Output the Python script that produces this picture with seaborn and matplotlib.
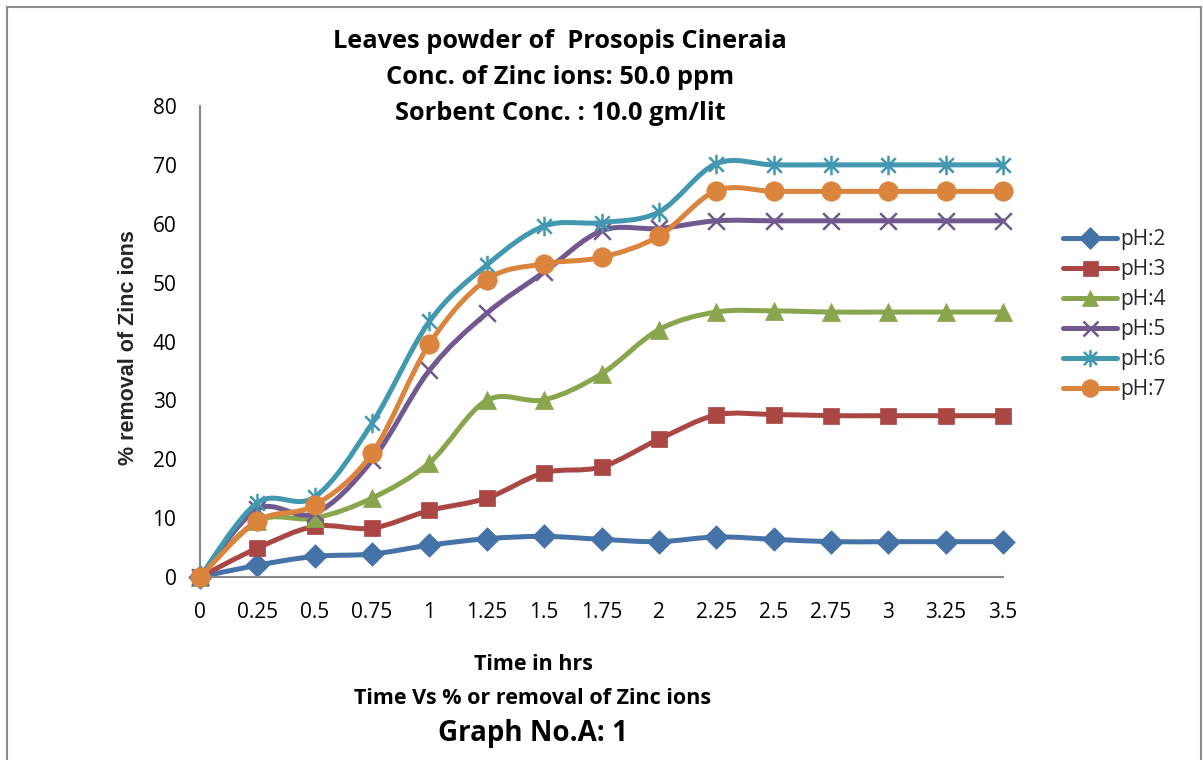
import numpy as np
import pandas as pd
import matplotlib
matplotlib.use("Agg")
import matplotlib.pyplot as plt
import seaborn as sns
from matplotlib.path import Path
from matplotlib.patches import PathPatch, Rectangle
from matplotlib.lines import Line2D

# ---------------- data ----------------
time_hrs = [0, 0.25, 0.5, 0.75, 1, 1.25, 1.5, 1.75, 2, 2.25, 2.5, 2.75, 3, 3.25, 3.5]
tick_labels = ["0", "0.25", "0.5", "0.75", "1", "1.25", "1.5", "1.75", "2",
               "2.25", "2.5", "2.75", "3", "3.25", "3.5"]
series_names = ["pH:2", "pH:3", "pH:4", "pH:5", "pH:6", "pH:7"]
ph2 = [0, 2.0, 3.5, 3.9, 5.4, 6.5, 6.9, 6.4, 6.0, 6.8, 6.4, 6.0, 6.0, 6.0, 6.0]
ph3 = [0, 4.9, 8.6, 8.3, 11.3, 13.4, 17.7, 18.7, 23.4, 27.5, 27.6, 27.4, 27.4, 27.4, 27.4]
ph4 = [0, 9.5, 10.0, 13.4, 19.4, 30.0, 30.1, 34.5, 42.0, 45.0, 45.2, 45.0, 45.0, 45.0, 45.0]
ph5 = [0, 11.5, 10.8, 19.8, 35.1, 44.8, 51.8, 58.8, 59.2, 60.5, 60.5, 60.5, 60.5, 60.5, 60.5]
ph6 = [0, 12.6, 13.6, 26.1, 43.4, 53.0, 59.6, 60.2, 62.0, 70.2, 70.0, 70.0, 70.0, 70.0, 70.0]
ph7 = [0, 9.5, 12.2, 21.0, 39.6, 50.5, 53.2, 54.3, 57.9, 65.6, 65.5, 65.5, 65.5, 65.5, 65.5]
series_values = [ph2, ph3, ph4, ph5, ph6, ph7]

# ---------------- style ----------------
sns.set_style("white")
plt.rcParams["font.family"] = ["Open Sans", "DejaVu Sans"]

colors = ["#4572A7", "#AA4643", "#89A54E", "#71588F", "#4198AF", "#DB843D"]
star = Path([(0, -1), (0, 1), (-0.75, -0.75), (0.75, 0.75), (-0.75, 0.75), (0.75, -0.75)],
            [Path.MOVETO, Path.LINETO, Path.MOVETO, Path.LINETO, Path.MOVETO, Path.LINETO])
markers = ["D", "s", "^", "x", star, "o"]
msizes = [12, 12, 13, 12, 14, 14]
filled = [True, True, True, False, False, True]
LW = 3.6


def smooth_path(xs, ys, t=1 / 6):
    pts = np.column_stack([xs, ys]).astype(float)
    n = len(pts)
    verts = [pts[0]]
    codes = [Path.MOVETO]
    for i in range(n - 1):
        p0 = pts[max(i - 1, 0)]
        p1 = pts[i]
        p2 = pts[i + 1]
        p3 = pts[min(i + 2, n - 1)]
        c1 = p1 + (p2 - p0) * t
        c2 = p2 - (p3 - p1) * t
        verts += [c1, c2, p2]
        codes += [Path.CURVE4] * 3
    return Path(verts, codes)


W, H = 1203, 760
fig = plt.figure(figsize=(W / 100, H / 100), dpi=100)
ax = fig.add_axes([200 / W, 1 - 577 / H, (1003 - 200) / W, (577 - 106) / H])

df = pd.DataFrame({"time": time_hrs})
for name, vals in zip(series_names, series_values):
    df[name] = vals

handles = []
for i, name in enumerate(series_names):
    c = colors[i]
    patch = PathPatch(smooth_path(df["time"], df[name]), facecolor="none", edgecolor=c,
                      lw=LW, capstyle="round", joinstyle="round", zorder=2 + i,
                      transform=ax.transData, clip_on=False)
    ax.add_patch(patch)
    if filled[i]:
        sns.scatterplot(x=df["time"], y=df[name], ax=ax, marker=markers[i],
                        s=msizes[i] ** 2, color=c, edgecolor=c, linewidth=0.5,
                        zorder=2.5 + i, clip_on=False, legend=False)
    else:
        sns.scatterplot(x=df["time"], y=df[name], ax=ax, marker=markers[i],
                        s=msizes[i] ** 2, color=c, edgecolor=c,
                        linewidth=1.8, zorder=2.5 + i, clip_on=False, legend=False)
    handles.append(Line2D([0], [0], color=c, lw=LW, marker=markers[i],
                          markersize=msizes[i] * 0.9,
                          markerfacecolor=c if filled[i] else "none",
                          markeredgecolor=c, markeredgewidth=1.8 if not filled[i] else 0.5,
                          solid_capstyle="round"))

ax.set_xlim(0, 3.5)
ax.set_ylim(0, 80)
ax.set_xticks(time_hrs)
ax.set_xticklabels(tick_labels)
ax.set_yticks(range(0, 81, 10))
ax.set_xlabel("")
ax.set_ylabel("")

for s in ["top", "right"]:
    ax.spines[s].set_visible(False)
for s in ["left", "bottom"]:
    ax.spines[s].set_color("#868686")
    ax.spines[s].set_linewidth(1.5)
ax.tick_params(axis="both", direction="out", length=6, width=1.5, color="#868686",
               labelsize=15, labelcolor="black")
ax.tick_params(axis="y", pad=11)
ax.tick_params(axis="x", pad=12)

ax.legend(handles=handles, labels=series_names, loc="upper left",
          bbox_to_anchor=(1063 / W, 1 - 229 / H), bbox_transform=fig.transFigure,
          frameon=False, fontsize=15, handlelength=2.6, handletextpad=0.15,
          labelspacing=0.43, borderaxespad=0, borderpad=0)

# titles
title_font = dict(fontweight="bold", ha="center", va="center", color="black")
fig.text(560 / W, 1 - 42 / H, "Leaves powder of  Prosopis Cineraia", fontsize=18.3, **title_font)
fig.text(560 / W, 1 - 77 / H, "Conc. of Zinc ions: 50.0 ppm", fontsize=18.3, **title_font)
fig.text(560 / W, 1 - 113 / H, "Sorbent Conc. : 10.0 gm/lit", fontsize=18.3, **title_font)

fig.text(533 / W, 1 - 665 / H, "Time in hrs", fontsize=15.5, **title_font)
fig.text(533 / W, 1 - 698 / H, "Time Vs % or removal of Zinc ions", fontsize=15.5, **title_font)
fig.text(533 / W, 1 - 733 / H, "Graph No.A: 1", fontsize=20, **title_font)

fig.text(128 / W, 1 - 348 / H, "% removal of Zinc ions", fontsize=15.5, fontweight="bold",
         rotation=90, ha="center", va="center", family=["Liberation Sans", "DejaVu Sans"])

# outer border
fig.patches.append(Rectangle((7 / W, -0.05), (1201 - 7) / W, 1.05 - 7 / H,
                             transform=fig.transFigure, fill=False,
                             edgecolor="#8c8c8c", lw=1.5))

fig.savefig("out.png", dpi=100)
